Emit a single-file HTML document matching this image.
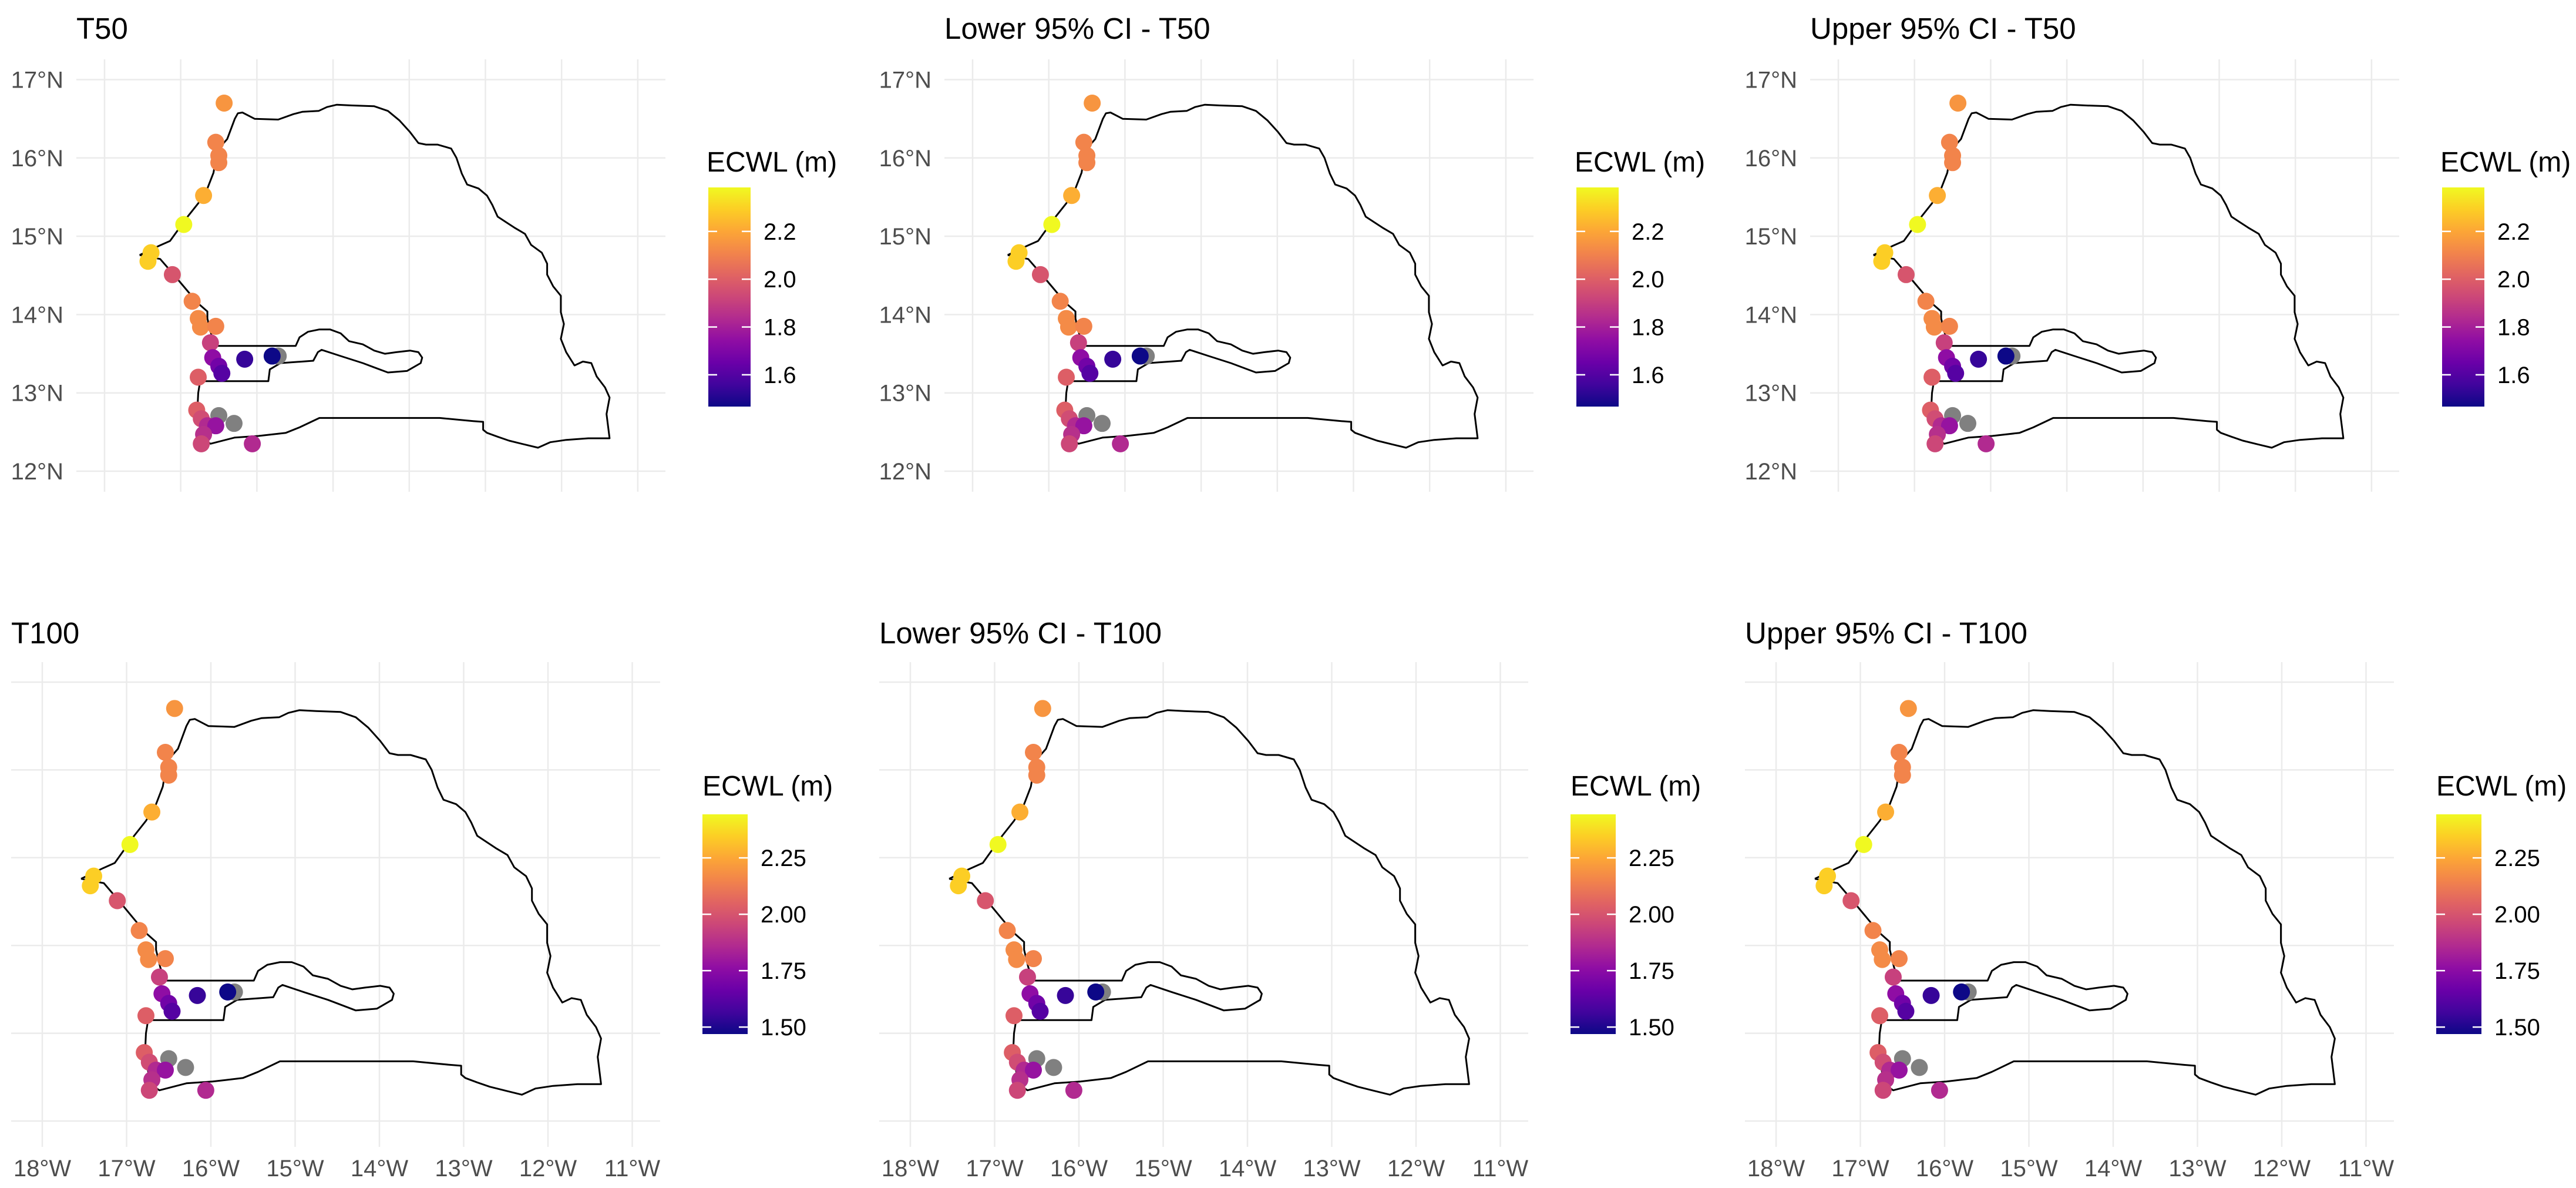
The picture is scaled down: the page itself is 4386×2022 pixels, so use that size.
<!DOCTYPE html>
<html><head><meta charset="utf-8"><style>
html,body{margin:0;padding:0;background:#fff;}
svg{display:block;font-family:"Liberation Sans",Arial,sans-serif;}
</style></head><body>
<svg id="fig" width="4386" height="2022" viewBox="0 0 4386 2022" xmlns="http://www.w3.org/2000/svg">
<defs>
<linearGradient id="plasma" x1="0" y1="1" x2="0" y2="0">
<stop offset="0" stop-color="#0d0887"/><stop offset="0.1" stop-color="#41049d"/><stop offset="0.2" stop-color="#6a00a8"/><stop offset="0.3" stop-color="#8f0da4"/><stop offset="0.4" stop-color="#b12a90"/><stop offset="0.5" stop-color="#cc4778"/><stop offset="0.6" stop-color="#e16462"/><stop offset="0.7" stop-color="#f2844b"/><stop offset="0.8" stop-color="#fca636"/><stop offset="0.9" stop-color="#fcce25"/><stop offset="1" stop-color="#f0f921"/>
</linearGradient>
</defs>
</svg>
<script>
// ---- data ----
const stationLon = [-15.72,-16.43,-16.54,-16.50,-16.50,-16.70,-16.96,-17.39,-17.43,-17.11,-16.85,-16.77,-16.74,-16.54,-16.61,-16.58,-16.50,-16.46,-16.16,-15.80,-16.77,-16.79,-16.73,-16.50,-16.30,-16.65,-16.54,-16.70,-16.73,-16.06];
const stationLat = [13.47,16.70,16.20,16.03,15.94,15.52,15.15,14.79,14.68,14.51,14.17,13.95,13.84,13.85,13.64,13.45,13.34,13.25,13.43,13.47,13.20,12.78,12.67,12.71,12.61,12.58,12.58,12.47,12.35,12.35];
const ecwlT50 = [null,2.155,2.109,2.109,2.109,2.219,2.384,2.292,2.292,1.971,2.109,2.127,2.127,2.109,1.907,1.742,1.669,1.605,1.540,1.467,1.999,1.999,1.944,null,null,1.834,1.760,1.852,1.926,1.834];
const ecwlT50Lower = [null,2.155,2.109,2.109,2.109,2.219,2.384,2.292,2.292,1.971,2.109,2.127,2.127,2.109,1.907,1.742,1.669,1.605,1.540,1.467,1.999,1.999,1.944,null,null,1.834,1.760,1.852,1.926,1.834];
const ecwlT50Upper = [null,2.155,2.109,2.109,2.109,2.219,2.384,2.292,2.292,1.971,2.109,2.127,2.127,2.109,1.907,1.742,1.669,1.605,1.540,1.467,1.999,1.999,1.944,null,null,1.834,1.760,1.852,1.926,1.834];
const ecwlT100 = [null,2.200,2.151,2.151,2.151,2.268,2.443,2.346,2.346,2.005,2.151,2.170,2.170,2.151,1.937,1.761,1.683,1.615,1.547,1.469,2.034,2.034,1.975,null,null,1.859,1.781,1.878,1.956,1.859];
const ecwlT100Lower = [null,2.200,2.151,2.151,2.151,2.268,2.443,2.346,2.346,2.005,2.151,2.170,2.170,2.151,1.937,1.761,1.683,1.615,1.547,1.469,2.034,2.034,1.975,null,null,1.859,1.781,1.878,1.956,1.859];
const ecwlT100Upper = [null,2.200,2.151,2.151,2.151,2.268,2.443,2.346,2.346,2.005,2.151,2.170,2.170,2.151,1.937,1.761,1.683,1.615,1.547,1.469,2.034,2.034,1.975,null,null,1.859,1.781,1.878,1.956,1.859];
const panelTitles = ["T50","Lower 95% CI - T50","Upper 95% CI - T50","T100","Lower 95% CI - T100","Upper 95% CI - T100"];
const latTicks = [17,16,15,14,13,12];
const latTickLabels = ["17°N","16°N","15°N","14°N","13°N","12°N"];
const lonTicks = [-18,-17,-16,-15,-14,-13,-12,-11];
const lonTickLabels = ["18°W","17°W","16°W","15°W","14°W","13°W","12°W","11°W"];
const legendTicksT50 = [1.6,1.8,2.0,2.2];
const legendTickLabelsT50 = ["1.6","1.8","2.0","2.2"];
const legendTicksT100 = [1.5,1.75,2.0,2.25];
const legendTickLabelsT100 = ["1.50","1.75","2.00","2.25"];
const outlineLon = [-17.54,-17.28,-17.14,-16.91,-16.77,-16.65,-16.57,-16.52,-16.39,-16.29,-16.25,-16.19,-16.03,-15.72,-15.52,-15.40,-15.19,-15.08,-14.95,-14.75,-14.46,-14.28,-14.13,-13.99,-13.88,-13.78,-13.63,-13.45,-13.38,-13.31,-13.24,-13.09,-12.98,-12.91,-12.84,-12.62,-12.48,-12.40,-12.26,-12.19,-12.19,-12.11,-12.01,-12.01,-11.97,-12.01,-11.94,-11.83,-11.72,-11.61,-11.54,-11.43,-11.37,-11.41,-11.37,-11.65,-11.94,-12.15,-12.31,-12.48,-12.69,-12.84,-12.98,-13.03,-13.03,-13.16,-13.60,-14.32,-15.18,-15.44,-15.62,-15.98,-16.29,-16.61,-16.72,-16.75,-16.78,-16.77,-16.75,-16.70,-15.85,-15.83,-15.69,-15.26,-15.20,-15.15,-14.90,-14.61,-14.28,-14.03,-13.85,-13.83,-13.88,-13.99,-14.17,-14.32,-14.46,-14.61,-14.79,-14.90,-15.04,-15.18,-15.33,-15.44,-15.49,-16.54,-16.60,-16.65,-16.65,-16.78,-16.91,-17.10,-17.27,-17.54];
const outlineLat = [14.76,14.88,14.94,15.25,15.42,15.61,15.81,16.10,16.24,16.50,16.57,16.58,16.50,16.49,16.56,16.59,16.60,16.65,16.68,16.67,16.66,16.60,16.48,16.33,16.19,16.17,16.17,16.12,16.00,15.80,15.66,15.61,15.52,15.40,15.25,15.11,15.03,14.89,14.79,14.65,14.51,14.36,14.24,14.03,13.88,13.69,13.52,13.35,13.40,13.38,13.21,13.07,12.94,12.73,12.42,12.42,12.40,12.37,12.30,12.34,12.39,12.44,12.49,12.53,12.63,12.64,12.68,12.68,12.68,12.56,12.49,12.45,12.43,12.35,12.42,12.60,12.80,13.00,13.12,13.15,13.15,13.30,13.38,13.41,13.52,13.55,13.47,13.38,13.26,13.28,13.38,13.45,13.52,13.54,13.52,13.50,13.54,13.62,13.66,13.76,13.81,13.81,13.78,13.71,13.60,13.60,13.75,13.95,14.04,14.15,14.30,14.52,14.71,14.76];
const panelValues = [ecwlT50,ecwlT50Lower,ecwlT50Upper,ecwlT100,ecwlT100Lower,ecwlT100Upper];

// ---- layout ----
const NS="http://www.w3.org/2000/svg";
const svg=document.getElementById('fig');
const offsets=[0,1478,2952];
const plasma=["#0d0887","#41049d","#6a00a8","#8f0da4","#b12a90","#cc4778","#e16462","#f2844b","#fca636","#fcce25","#f0f921"];
function hex2rgb(h){return [parseInt(h.substr(1,2),16),parseInt(h.substr(3,2),16),parseInt(h.substr(5,2),16)];}
function colorFor(t){if(t<0)t=0;if(t>1)t=1;const f=t*10,i=Math.min(9,Math.floor(f)),r=f-i;const a=hex2rgb(plasma[i]),b=hex2rgb(plasma[i+1]);
 return 'rgb('+a.map((v,k)=>Math.round(v+(b[k]-v)*r)).join(',')+')';}
function mk(tag,attrs,parent){const e=document.createElementNS(NS,tag);for(const k in attrs)e.setAttribute(k,attrs[k]);(parent||svg).appendChild(e);return e;}

const rows=[
 {x18:178,pxLon:129.7,y17:135.5,pxLat:133.3,gx0:130,gx1:1133,gy0:101,gy1:837,titleX:130,titleY:66,ylab:true,xlab:false,
  legTitleX:1203,legTitleY:292,barX:1206,barW:72,barTop:319,barBot:692,ticks:legendTicksT50,tickLabels:legendTickLabelsT50},
 {x18:72,pxLon:143.5,y17:1161,pxLat:149.4,gx0:19,gx1:1124,gy0:1127,gy1:1952,titleX:19,titleY:1095,ylab:false,xlab:true,
  legTitleX:1196,legTitleY:1354,barX:1196,barW:77,barTop:1386,barBot:1760,ticks:legendTicksT100,tickLabels:legendTickLabelsT100}
];

for(let p=0;p<6;p++){
 const R=rows[Math.floor(p/3)], ox=offsets[p%3], vals=panelValues[p];
 const g=mk('g',{});
 
 
 const X=lon=>ox+R.x18+(lon+18)*R.pxLon;
 const Y=lat=>R.y17+(17-lat)*R.pxLat;
 // gridlines
 latTicks.forEach(lt=>{const l=mk('line',{x1:ox+R.gx0,x2:ox+R.gx1,y1:Y(lt),y2:Y(lt),stroke:'#ebebeb','stroke-width':2.5},g);
  
  });
 lonTicks.forEach(ln=>{const l=mk('line',{x1:X(ln),x2:X(ln),y1:R.gy0,y2:R.gy1,stroke:'#ebebeb','stroke-width':2.5},g);
  
  });
 // axis labels
 if(R.ylab){latTicks.forEach((lt,i)=>{const t=mk('text',{x:ox+108,y:Y(lt)+14,'text-anchor':'end','font-size':40,fill:'#4d4d4d'},g);t.textContent=latTickLabels[i];
  
  });}
 if(R.xlab){lonTicks.forEach((ln,i)=>{const t=mk('text',{x:X(ln),y:2002,'text-anchor':'middle','font-size':40,fill:'#4d4d4d'},g);t.textContent=lonTickLabels[i];
  
  });}
 // title
 const ti=mk('text',{x:ox+R.titleX,y:R.titleY,'font-size':51,fill:'#000'},g);ti.textContent=panelTitles[p];
 
 
 // outline
 let d='';outlineLon.forEach((ln,i)=>{d+=(i?'L':'M')+X(ln).toFixed(1)+' '+Y(outlineLat[i]).toFixed(1);});
 const ol=mk('path',{d:d,fill:'none',stroke:'#000','stroke-width':3,'stroke-linejoin':'round'},g);
 
 
 // scale
 const nn=vals.filter(v=>v!==null);const vmin=Math.min(...nn),vmax=Math.max(...nn);
 stationLon.forEach((ln,i)=>{const v=vals[i];const c=mk('circle',{cx:X(ln),cy:Y(stationLat[i]),r:14.5,fill:v===null?'#808080':colorFor((v-vmin)/(vmax-vmin))},g);
  
  });
 // legend
 const lt=mk('text',{x:ox+R.legTitleX,y:R.legTitleY,'font-size':48,fill:'#000'},g);lt.textContent='ECWL (m)';
 
 
 const bar=mk('rect',{x:ox+R.barX,y:R.barTop,width:R.barW,height:R.barBot-R.barTop,fill:'url(#plasma)'},g);
 
 
 const LY=v=>R.barBot-(v-vmin)/(vmax-vmin)*(R.barBot-R.barTop);
 R.ticks.forEach((tv,i)=>{const y=LY(tv);
  mk('line',{x1:ox+R.barX,x2:ox+R.barX+15,y1:y,y2:y,stroke:'#fff','stroke-width':2.5},g);
  mk('line',{x1:ox+R.barX+R.barW-15,x2:ox+R.barX+R.barW,y1:y,y2:y,stroke:'#fff','stroke-width':2.5},g);
  const t=mk('text',{x:ox+R.barX+R.barW+22,y:y+14,'font-size':40,fill:'#000'},g);t.textContent=R.tickLabels[i];
  
  });
}
</script>
</body></html>
